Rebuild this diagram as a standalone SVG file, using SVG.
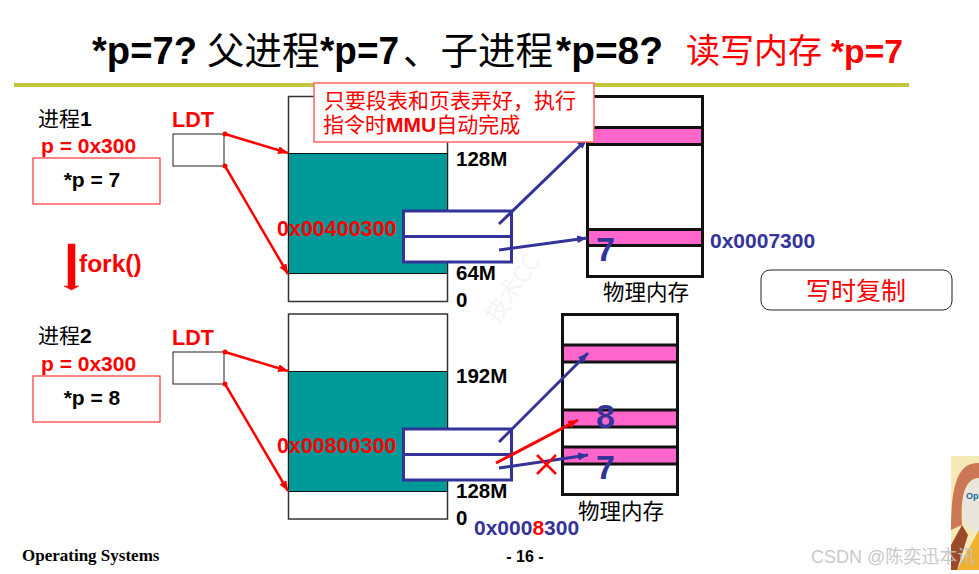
<svg xmlns="http://www.w3.org/2000/svg" width="979" height="574" viewBox="0 0 979 574">
<style>
text{font-family:"Liberation Sans","Noto Sans CJK SC",sans-serif}
.b{font-weight:700}
.k{fill:#000}
.r{fill:#f00}
.n{fill:#333399}
.cn{font-family:"Noto Sans CJK SC","Liberation Sans",sans-serif;font-weight:400}
.t{font-size:38px;font-weight:700}
.tc{font-size:37.500px}
.l{font-size:20.500px;font-weight:700}
.v{font-size:21px;font-weight:700}
.box{fill:#fff;stroke:#333;stroke-width:1.5}
.thin{fill:#fff;stroke:#222;stroke-width:1}
.seg{fill:#009999;stroke:#111;stroke-width:1}
.mem{fill:#fff;stroke:#111;stroke-width:3}
.pink{fill:#ff66cc;stroke:#111;stroke-width:3}
.pt{fill:#fff;stroke:#333399;stroke-width:3}
.red{stroke:#f00;stroke-width:2.500;fill:none}
.blu{stroke:#333399;stroke-width:3;fill:none}
.callout{fill:#fff;stroke:#ff6666;stroke-width:1.500}
</style>
<defs>
<marker id="ar" markerUnits="userSpaceOnUse" markerWidth="12" markerHeight="10" refX="10" refY="4" orient="auto"><path d="M0 0L10 4L0 8z" fill="#f00"/></marker>
<marker id="ab" markerUnits="userSpaceOnUse" markerWidth="12" markerHeight="10" refX="10" refY="4" orient="auto"><path d="M0 0L10 4L0 8z" fill="#333399"/></marker>
</defs>
<rect width="979" height="574" fill="#fff"/>

<g id="watermark-back">
<text transform="translate(497 325) rotate(-55)" style="font-size:24px" fill="#f5f5f5" class="cn">技术CC</text>
</g>

<g id="title">
<text class="t k" x="92" y="64" textLength="105" lengthAdjust="spacingAndGlyphs">*p=7?</text>
<text class="k cn tc" x="207" y="64">父进程</text>
<text class="t k" x="320" y="64" textLength="79" lengthAdjust="spacingAndGlyphs">*p=7</text>
<text class="k cn tc" x="403" y="64">、子进程</text>
<text class="t k" x="556" y="64" textLength="107" lengthAdjust="spacingAndGlyphs">*p=8?</text>
<text class="r cn" x="686" y="63" style="font-size:34px">读写内存</text>
<text class="r b" x="831" y="63" style="font-size:33px" textLength="72" lengthAdjust="spacingAndGlyphs">*p=7</text>
<rect x="14" y="83" width="895" height="4" fill="#c6c33c"/>
</g>

<g id="process1">
<text class="k" x="38" y="126" style="font-size:21px"><tspan class="cn">进程</tspan><tspan class="b">1</tspan></text>
<text class="r v" x="41" y="153">p = 0x300</text>
<rect x="33" y="158" width="127" height="46" fill="#fff" stroke="#ff4444" stroke-width="1.300"/>
<text class="k v" x="92" y="187" text-anchor="middle">*p = 7</text>
</g>
<g id="ldt1">
<text class="r b" x="172" y="127" style="font-size:21.500px">LDT</text>
<rect class="thin" x="173" y="134" width="51" height="32"/>
</g>
<g id="fork">
<path d="M68 244h7v42h4l-7.500 4-7.500-4h4z" fill="#f00" stroke="#f00" stroke-width="0.500"/>
<text class="r b" x="79" y="272" style="font-size:24.500px">fork()</text>
</g>
<g id="linear1">
<rect class="box" x="288.500" y="96.500" width="159" height="205"/>
<rect class="seg" x="288.500" y="153.500" width="159" height="120"/>
<text class="k l" x="456" y="166">128M</text>
<text class="k l" x="456" y="280">64M</text>
<text class="k l" x="456" y="307">0</text>
<text class="r b" x="277" y="236" style="font-size:21.500px">0x00400300</text>
</g>
<g id="pagetable1">
<rect class="pt" x="403.500" y="211" width="108" height="51"/>
<line class="blu" x1="403.500" y1="236.500" x2="511.500" y2="236.500"/>
</g>
<g id="memory1">
<rect class="mem" x="587.500" y="96.500" width="115" height="180"/>
<rect class="pink" x="587.500" y="127.500" width="115" height="17"/>
<rect class="pink" x="587.500" y="229.500" width="115" height="16"/>
<text class="n b" x="596" y="261" style="font-size:34px">7</text>
<text class="n v" x="710" y="248">0x0007300</text>
<text class="k cn" x="603" y="300" style="font-size:21.500px">物理内存</text>
</g>

<g id="process2">
<text class="k" x="38" y="343" style="font-size:21px"><tspan class="cn">进程</tspan><tspan class="b">2</tspan></text>
<text class="r v" x="41" y="371">p = 0x300</text>
<rect x="33" y="376" width="127" height="46" fill="#fff" stroke="#ff4444" stroke-width="1.300"/>
<text class="k v" x="92" y="405" text-anchor="middle">*p = 8</text>
</g>
<g id="ldt2">
<text class="r b" x="172" y="345" style="font-size:21.500px">LDT</text>
<rect class="thin" x="173" y="352" width="51" height="32"/>
</g>
<g id="linear2">
<rect class="box" x="288.500" y="314" width="159" height="205"/>
<rect class="seg" x="288.500" y="371.500" width="159" height="120"/>
<text class="k l" x="456" y="383">192M</text>
<text class="k l" x="456" y="498">128M</text>
<text class="k l" x="456" y="525">0</text>
<text class="r b" x="277" y="453" style="font-size:21.500px">0x00800300</text>
</g>
<g id="pagetable2">
<rect class="pt" x="403.500" y="429" width="108" height="51"/>
<line class="blu" x1="403.500" y1="454.500" x2="511.500" y2="454.500"/>
</g>
<g id="memory2">
<rect class="mem" x="562.500" y="314.500" width="115" height="180"/>
<rect class="pink" x="562.500" y="345" width="115" height="17"/>
<rect class="pink" x="562.500" y="410" width="115" height="17"/>
<rect class="pink" x="562.500" y="447" width="115" height="17"/>
<text class="n b" x="596" y="428" style="font-size:34px">8</text>
<text class="n b" x="596" y="479" style="font-size:34px">7</text>
<text class="k cn" x="578" y="519" style="font-size:21.500px">物理内存</text>
<text class="n v" x="474" y="535">0x000<tspan class="r">8</tspan>300</text>
</g>

<g id="connectors">
<circle cx="225" cy="134" r="2.500" fill="#f00"/>
<circle cx="225" cy="166" r="2.500" fill="#f00"/>
<circle cx="225" cy="352" r="2.500" fill="#f00"/>
<circle cx="225" cy="384" r="2.500" fill="#f00"/>
<line class="red" x1="225" y1="134" x2="288" y2="153" marker-end="url(#ar)"/>
<line class="red" x1="225" y1="166" x2="288" y2="274" marker-end="url(#ar)"/>
<line class="red" x1="225" y1="352" x2="288" y2="371" marker-end="url(#ar)"/>
<line class="red" x1="225" y1="384" x2="288" y2="491" marker-end="url(#ar)"/>
<line class="blu" x1="499" y1="224" x2="587" y2="139" marker-end="url(#ab)"/>
<line class="blu" x1="499" y1="250" x2="587" y2="238" marker-end="url(#ab)"/>
<line class="blu" x1="499" y1="442" x2="588" y2="353" marker-end="url(#ab)"/>
<line class="blu" x1="499" y1="468" x2="588" y2="455" marker-end="url(#ab)"/>
<line class="red" style="stroke-width:3" x1="496" y1="463" x2="578" y2="420" marker-end="url(#ar)"/>
<path d="M537 455L556 474M556 455L537 474" stroke="#f00" stroke-width="2.500" fill="none"/>
</g>

<g id="callout">
<rect class="callout" x="314" y="83" width="280" height="59"/>
<text class="r" x="324" y="108" style="font-size:21px">只要段表和页表弄好，执行</text>
<text class="r" x="323" y="132" style="font-size:21px">指令时<tspan class="b">MMU</tspan>自动完成</text>
</g>

<g id="cow">
<rect x="761" y="270" width="191" height="40" rx="9" fill="#fff" stroke="#222" stroke-width="1"/>
<text class="r cn" x="856" y="300" text-anchor="middle" style="font-size:25px">写时复制</text>
</g>

<g id="footer">
<text class="b k" x="22" y="561" style="font-family:'Liberation Serif',serif;font-size:17px">Operating Systems</text>
<text class="b k" x="525" y="562" text-anchor="middle" style="font-size:16px">- 16 -</text>
</g>

<g id="book">
<rect x="951" y="456" width="28" height="114" fill="#f6e9b8"/>
<path d="M951 530C951 480 960 462 979 463V478C966 478 960 495 962 525z" fill="#cc7755"/>
<path d="M963 510C962 490 968 480 979 478V535L965 525z" fill="#e9e6de"/>
<path d="M957 570L979 530V570z" fill="#f0b030"/>
<path d="M951 545L962 525L968 535L957 570H951z" fill="#9c4a2a"/>
<text x="966" y="499" style="font-size:9px;font-weight:700" fill="#1a6a99">Op</text>
</g>

<g id="watermark">
<text x="811" y="563" style="font-size:18px" fill="#c4c4c4" opacity="0.900">CSDN @陈奕迅本讯</text>
</g>
</svg>
